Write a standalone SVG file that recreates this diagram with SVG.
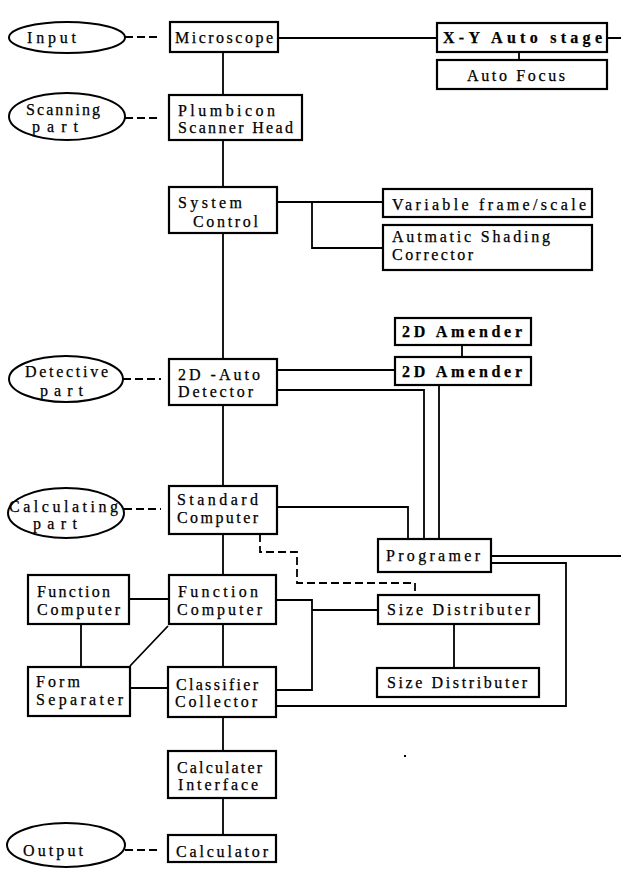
<svg xmlns="http://www.w3.org/2000/svg" width="621" height="870" viewBox="0 0 621 870">
<style>
.bx{fill:#fff;stroke:#000;stroke-width:2.2}
.el{fill:#fff;stroke:#000;stroke-width:2}
.ln{fill:none;stroke:#000;stroke-width:1.8}
.ds{fill:none;stroke:#000;stroke-width:1.8;stroke-dasharray:8,4}
text{font-family:"Liberation Serif","Times New Roman",serif;font-size:16px;fill:#000;stroke:#000;stroke-width:0.25}
.b{font-weight:bold}
</style>
<rect width="621" height="870" fill="#fff"/>
<g id="connectors">
<path class="ln" d="M223,52V95M223,140V187M223,233V359M223,405V486M223,534V575M223,624V667M223,717V751M223,798V835"/>
<path class="ln" d="M278,38H437M607,38H621M519,52V60"/>
<path class="ln" d="M277,202H383M312,202V248H383"/>
<path class="ln" d="M277,370H395M462,345V357M277,390H424V539M439,385V539"/>
<path class="ln" d="M277,507H408V539"/>
<path class="ln" d="M491,556H621M491,563H566V706H276"/>
<path class="ln" d="M276,600H312V690H276M312,610H378M454,624V668"/>
<path class="ln" d="M129,599H169M81,624V667M130,666L168,626M130,688H168"/>
<path class="ds" d="M260,534V552H297V583H415V595"/>
<path class="ds" d="M125,37H161M125,118H161M123,379H161M124,509H161M125,850H161"/>
</g>
<g id="input"><ellipse class="el" cx="67" cy="37.5" rx="58" ry="15.5"/><text x="27" y="43" textLength="49">Input</text></g>
<g id="scanning"><ellipse class="el" cx="67" cy="116.5" rx="58" ry="23.5"/><text x="26" y="115" textLength="74">Scanning</text><text x="32" y="132" textLength="46">part</text></g>
<g id="detective"><ellipse class="el" cx="66" cy="379" rx="57" ry="23"/><text x="25" y="377" textLength="83">Detective</text><text x="40" y="396" textLength="43">part</text></g>
<g id="calculating"><ellipse class="el" cx="66" cy="513" rx="58" ry="25"/><text x="9" y="512" textLength="109">Calculating</text><text x="33" y="529" textLength="44">part</text></g>
<g id="output"><ellipse class="el" cx="66" cy="845" rx="59" ry="22"/><text x="23" y="856" textLength="60">Output</text></g>
<g id="microscope"><rect class="bx" x="170" y="22" width="108" height="30"/><text x="175" y="43" textLength="98">Microscope</text></g>
<g id="xy-stage"><rect class="bx" x="437" y="23" width="170" height="29"/><text class="b" x="443" y="43" textLength="159">X-Y  Auto  stage</text></g>
<g id="auto-focus"><rect class="bx" x="437" y="60" width="170" height="29"/><text x="467" y="81" textLength="98">Auto Focus</text></g>
<g id="plumbicon"><rect class="bx" x="169" y="95" width="133" height="45"/><text x="178" y="116" textLength="97">Plumbicon</text><text x="178" y="133" textLength="115">Scanner Head</text></g>
<g id="system-control"><rect class="bx" x="169" y="187" width="108" height="46"/><text x="178" y="208" textLength="64">System</text><text x="193" y="227" textLength="65">Control</text></g>
<g id="variable-frame"><rect class="bx" x="383" y="189" width="209" height="28"/><text x="392" y="210" textLength="194">Variable frame/scale</text></g>
<g id="shading-corrector"><rect class="bx" x="383" y="225" width="209" height="45"/><text x="392" y="242" textLength="158">Autmatic Shading</text><text x="392" y="260" textLength="81">Corrector</text></g>
<g id="amender-1"><rect class="bx" x="395" y="318" width="136" height="27"/><text class="b" x="402" y="337" textLength="120">2D  Amender</text></g>
<g id="amender-2"><rect class="bx" x="395" y="357" width="136" height="28"/><text class="b" x="402" y="377" textLength="120">2D  Amender</text></g>
<g id="auto-detector"><rect class="bx" x="169" y="359" width="108" height="46"/><text x="178" y="380" textLength="82">2D -Auto</text><text x="178" y="397" textLength="75">Detector</text></g>
<g id="standard-computer"><rect class="bx" x="169" y="486" width="108" height="48"/><text x="177" y="505" textLength="81">Standard</text><text x="177" y="523" textLength="81">Computer</text></g>
<g id="programer"><rect class="bx" x="378" y="539" width="113" height="33"/><text x="386" y="561" textLength="94">Programer</text></g>
<g id="function-computer-left"><rect class="bx" x="28" y="575" width="101" height="49"/><text x="37" y="597" textLength="73">Function</text><text x="37" y="615" textLength="83">Computer</text></g>
<g id="function-computer"><rect class="bx" x="169" y="575" width="107" height="49"/><text x="178" y="597" textLength="80">Function</text><text x="177" y="615" textLength="85">Computer</text></g>
<g id="size-distributer-1"><rect class="bx" x="378" y="595" width="161" height="29"/><text x="387" y="615" textLength="143">Size Distributer</text></g>
<g id="form-separater"><rect class="bx" x="28" y="667" width="102" height="49"/><text x="36" y="687" textLength="44">Form</text><text x="36" y="705" textLength="87">Separater</text></g>
<g id="classifier-collector"><rect class="bx" x="168" y="667" width="108" height="50"/><text x="176" y="690" textLength="82">Classifier</text><text x="175" y="707" textLength="82">Collector</text></g>
<g id="size-distributer-2"><rect class="bx" x="377" y="668" width="162" height="29"/><text x="387" y="688" textLength="140">Size Distributer</text></g>
<g id="calculater-interface"><rect class="bx" x="168" y="751" width="108" height="47"/><text x="177" y="773" textLength="85">Calculater</text><text x="178" y="790" textLength="80">Interface</text></g>
<g id="calculator"><rect class="bx" x="168" y="835" width="108" height="27"/><text x="176" y="857" textLength="92">Calculator</text></g>
<rect x="404" y="755" width="2" height="2" fill="#000"/>
</svg>
